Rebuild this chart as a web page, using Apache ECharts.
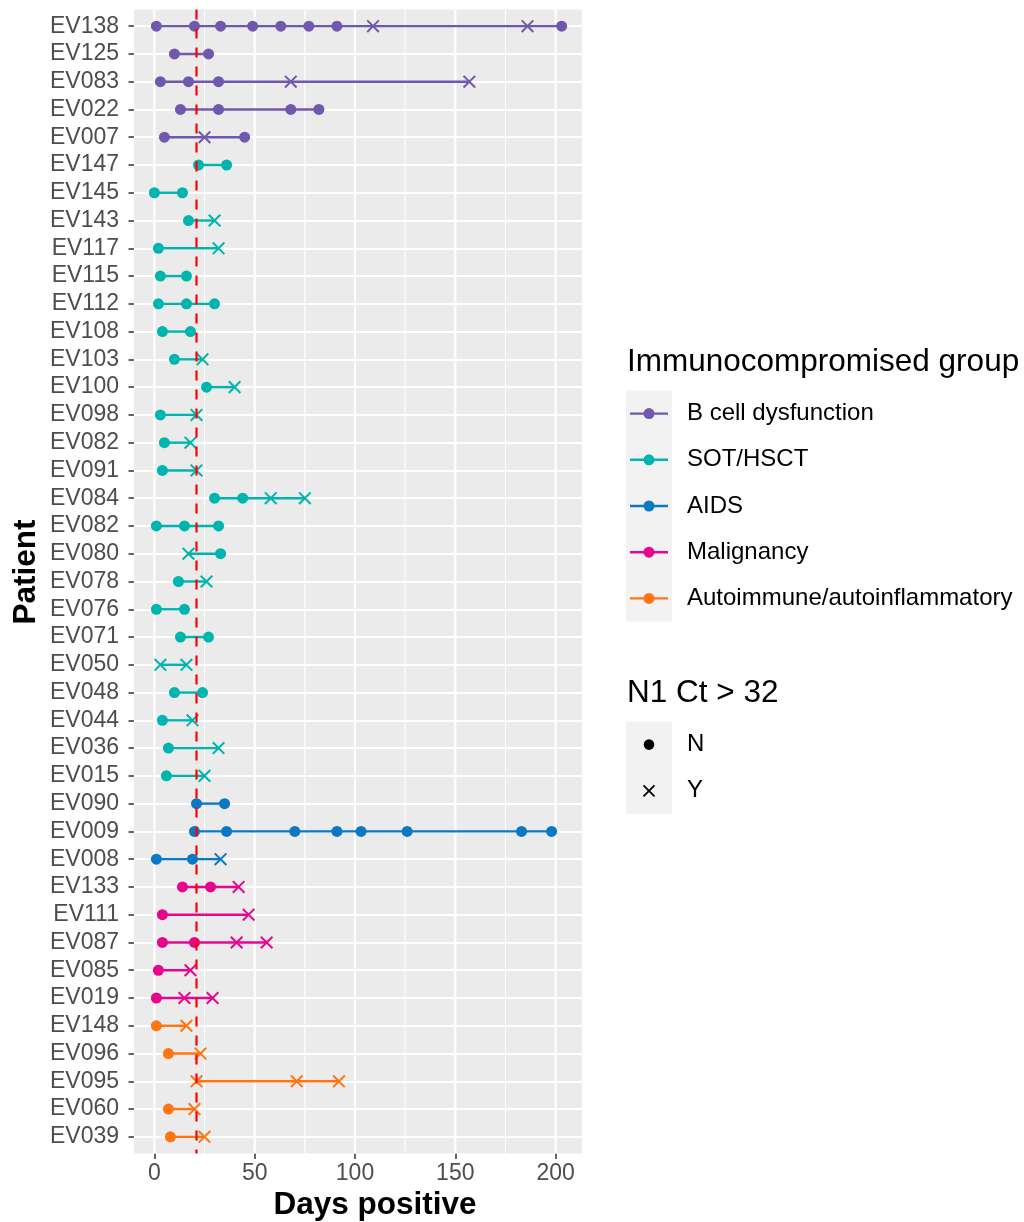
<!DOCTYPE html>
<html><head><meta charset="utf-8">
<script src="https://cdn.jsdelivr.net/npm/echarts@6/dist/echarts.min.js"></script>
<style>html,body{margin:0;padding:0;background:#fff}#chart{width:1024px;height:1222px}</style>
</head><body><div id="chart"></div>
<script>
// ---------------- data ----------------
const patients = ['EV138','EV125','EV083','EV022','EV007',
  'EV147','EV145','EV143','EV117','EV115','EV112','EV108','EV103','EV100','EV098','EV082','EV091','EV084','EV082','EV080','EV078','EV076','EV071','EV050','EV048','EV044','EV036','EV015',
  'EV090','EV009','EV008',
  'EV133','EV111','EV087','EV085','EV019',
  'EV148','EV096','EV095','EV060','EV039'];
const groupNames = ['B cell dysfunction','SOT/HSCT','AIDS','Malignancy','Autoimmune/autoinflammatory'];
const patientGroup = [0,0,0,0,0,
  1,1,1,1,1,1,1,1,1,1,1,1,1,1,1,1,1,1,1,1,1,1,1,
  2,2,2,
  3,3,3,3,3,
  4,4,4,4,4];
const daysPositive = [
  [1,20,33,49,63,77,91,109,186,203],
  [10,27],
  [3,17,32,68,157],
  [13,32,68,82],
  [5,25,45],
  [22,36],
  [0,14],
  [17,30],
  [2,32],
  [3,16],
  [2,16,30],
  [4,18],
  [10,24],
  [26,40],
  [3,21],
  [5,18],
  [4,21],
  [30,44,58,75],
  [1,15,32],
  [17,33],
  [12,26],
  [1,15],
  [13,27],
  [3,16],
  [10,24],
  [4,19],
  [7,32],
  [6,25],
  [21,35],
  [20,36,70,91,103,126,183,198],
  [1,19,33],
  [14,28,42],
  [4,47],
  [4,20,41,56],
  [2,18],
  [1,15,29],
  [1,16],
  [7,23],
  [21,71,92],
  [7,20],
  [8,25]
];
const ctAbove32 = [
  'NNNNNNNYYN','NN','NNNYY','NNNN','NYN',
  'NN','NN','NY','NY','NN','NNN','NN','NY','NY','NY','NY','NY','NNYY','NNN','YN','NY','NN','NN','YY','NN','NY','NY','NY',
  'NN','NNNNNNNN','NNY',
  'NNY','NY','NNYY','NY','NYY',
  'NY','NY','YYY','NY','NY'
];
const ctLevels = ['N','Y'];
const xTicks = [0,50,100,150,200];
const xMinorTicks = [25,75,125,175];
const thresholdDay = 21;

// ---------------- style ----------------
const groupColors = ['#7058AE','#00B4AF','#0A78C2','#E6078C','#FF7511'];
const FONT = "'Liberation Sans', Arial, Helvetica, sans-serif";
const allDays = daysPositive.flat();
const dMin = Math.min(...allDays), dMax = Math.max(...allDays);
const pad = (dMax - dMin) * 0.05;
const xMin = dMin - pad, xMax = dMax + pad;

const PANEL = {left: 134, right: 582, top: 9.5, bottom: 1153.5};
const rowUnit = (PANEL.bottom - PANEL.top) / (patients.length - 1 + 1.2);

// ---------------- derived series data ----------------
const segData = daysPositive.map((d, i) => [Math.min(...d), Math.max(...d), i, patientGroup[i]]);
const dotData = [], crossData = [];
daysPositive.forEach((d, i) => {
  d.forEach((v, j) => {
    const flag = ctAbove32[i][j];
    (flag === 'N' ? dotData : crossData).push([v, i, patientGroup[i]]);
  });
});
const gridLineData = xTicks.map(v => [v, 1]).concat(xMinorTicks.map(v => [v, 0]));

const chart = echarts.init(document.getElementById('chart'), null, {renderer: 'canvas'});

// legend graphics
const TITLE_FONT = '31.5px ' + FONT;
const legendG = [];
const mid = {textVerticalAlign: 'middle', verticalAlign: 'middle'};
legendG.push({type: 'text', x: 627, y: 362, style: Object.assign({text: 'Immunocompromised group', font: TITLE_FONT, fill: '#000'}, mid)});
const keyTop1 = 390.5, keyH = 46.2;
legendG.push({type: 'rect', shape: {x: 626, y: keyTop1, width: 46, height: keyH * groupNames.length}, style: {fill: '#F2F2F2'}});
groupNames.forEach((g, k) => {
  const cy = keyTop1 + keyH * (k + 0.5);
  legendG.push({type: 'line', shape: {x1: 630, y1: cy, x2: 668, y2: cy}, style: {stroke: groupColors[k], lineWidth: 2.4}});
  legendG.push({type: 'circle', shape: {cx: 649, cy: cy, r: 5.5}, style: {fill: groupColors[k]}});
  legendG.push({type: 'text', x: 687, y: cy, style: Object.assign({text: g, font: '24px ' + FONT, fill: '#000'}, mid)});
});
legendG.push({type: 'text', x: 627, y: 693, style: Object.assign({text: 'N1 Ct > 32', font: TITLE_FONT, fill: '#000'}, mid)});
const keyTop2 = 721.5;
legendG.push({type: 'rect', shape: {x: 626, y: keyTop2, width: 46, height: keyH * ctLevels.length}, style: {fill: '#F2F2F2'}});
ctLevels.forEach((lv, k) => {
  const cy = keyTop2 + keyH * (k + 0.5);
  if (lv === 'N') {
    legendG.push({type: 'circle', shape: {cx: 649, cy: cy, r: 5.3}, style: {fill: '#000'}});
  } else {
    legendG.push({type: 'line', shape: {x1: 643.5, y1: cy - 5.5, x2: 654.5, y2: cy + 5.5}, style: {stroke: '#000', lineWidth: 1.8}});
    legendG.push({type: 'line', shape: {x1: 643.5, y1: cy + 5.5, x2: 654.5, y2: cy - 5.5}, style: {stroke: '#000', lineWidth: 1.8}});
  }
  legendG.push({type: 'text', x: 687, y: cy, style: Object.assign({text: lv, font: '24px ' + FONT, fill: '#000'}, mid)});
});
// axis titles
legendG.push({type: 'text', x: 375, y: 1205, style: Object.assign({text: 'Days positive', font: 'bold ' + TITLE_FONT, fill: '#000', textAlign: 'center', align: 'center'}, mid)});
legendG.push({type: 'text', x: 26, y: 572, rotation: Math.PI / 2, style: Object.assign({text: 'Patient', font: 'bold ' + TITLE_FONT, fill: '#000', textAlign: 'center', align: 'center'}, mid)});

const option = {
  backgroundColor: '#fff',
  animation: false,
  textStyle: {fontFamily: FONT},
  grid: [
    {left: PANEL.left, right: 1024 - PANEL.right, top: PANEL.top, bottom: 1222 - PANEL.bottom, show: true, backgroundColor: '#EBEBEB', borderWidth: 0, containLabel: false},
    {left: PANEL.left, right: 1024 - PANEL.right, top: PANEL.top + 0.6 * rowUnit, bottom: 1222 - PANEL.bottom + 0.6 * rowUnit, containLabel: false}
  ],
  xAxis: [
    {type: 'value', gridIndex: 0, min: xMin, max: xMax,
      axisLine: {show: false, onZero: false},
      axisTick: {show: true, customValues: xTicks, length: 5.5, lineStyle: {color: '#333', width: 1.5}},
      axisLabel: {show: true, customValues: xTicks, fontSize: 23, color: '#4D4D4D', margin: 9, fontFamily: FONT},
      splitLine: {show: false}, minorTick: {show: false}, minorSplitLine: {show: false}},
    {type: 'value', gridIndex: 1, min: xMin, max: xMax, show: false, axisLine: {onZero: false}, splitLine: {show: false}}
  ],
  yAxis: [
    {type: 'value', gridIndex: 0, min: 0, max: 1, show: false, axisLine: {onZero: false}, splitLine: {show: false}},
    {type: 'category', gridIndex: 1, data: patients, inverse: true, boundaryGap: false,
      axisLine: {show: false, onZero: false},
      axisTick: {show: true, interval: 0, length: 5.5, lineStyle: {color: '#333', width: 1.5}},
      axisLabel: {show: true, interval: 0, fontSize: 23, color: '#4D4D4D', margin: 15, fontFamily: FONT},
      splitLine: {show: true, interval: 0, lineStyle: {color: '#fff', width: 2.2}}}
  ],
  graphic: legendG,
  series: [
    {type: 'custom', xAxisIndex: 0, yAxisIndex: 0, z: 1, silent: true, data: gridLineData,
      renderItem: (params, api) => {
        const a = api.coord([api.value(0), 0]), b = api.coord([api.value(0), 1]);
        return {type: 'line', shape: {x1: a[0], y1: a[1], x2: b[0], y2: b[1]}, style: {stroke: '#fff', lineWidth: api.value(1) ? 2.2 : 1.1}};
      }},
    {type: 'custom', xAxisIndex: 1, yAxisIndex: 1, z: 2, silent: true, data: segData,
      encode: {x: [0, 1], y: 2},
      renderItem: (params, api) => {
        const a = api.coord([api.value(0), api.value(2)]), b = api.coord([api.value(1), api.value(2)]);
        return {type: 'line', shape: {x1: a[0], y1: a[1], x2: b[0], y2: b[1]}, style: {stroke: groupColors[api.value(3)], lineWidth: 2.4}};
      }},
    {type: 'scatter', xAxisIndex: 1, yAxisIndex: 1, z: 3, silent: true, data: dotData,
      symbol: 'circle', symbolSize: 11,
      itemStyle: {opacity: 1, color: (p) => groupColors[p.data[2]]}},
    {type: 'custom', xAxisIndex: 1, yAxisIndex: 1, z: 3, silent: true, data: crossData,
      encode: {x: 0, y: 1},
      renderItem: (params, api) => {
        const c = api.coord([api.value(0), api.value(1)]);
        const s = 5.8, col = groupColors[api.value(2)];
        return {type: 'group', children: [
          {type: 'line', shape: {x1: c[0] - s, y1: c[1] - s, x2: c[0] + s, y2: c[1] + s}, style: {stroke: col, lineWidth: 2}},
          {type: 'line', shape: {x1: c[0] - s, y1: c[1] + s, x2: c[0] + s, y2: c[1] - s}, style: {stroke: col, lineWidth: 2}}
        ]};
      }},
    {type: 'custom', xAxisIndex: 0, yAxisIndex: 0, z: 5, silent: true, data: [[thresholdDay]],
      renderItem: (params, api) => {
        const a = api.coord([api.value(0), 0]), b = api.coord([api.value(0), 1]);
        return {type: 'line', shape: {x1: a[0], y1: b[1], x2: b[0], y2: a[1]}, style: {stroke: '#FF0000', lineWidth: 2.2, lineDash: [10, 9]}};
      }}
  ]
};
chart.setOption(option);
</script>
</body></html>
